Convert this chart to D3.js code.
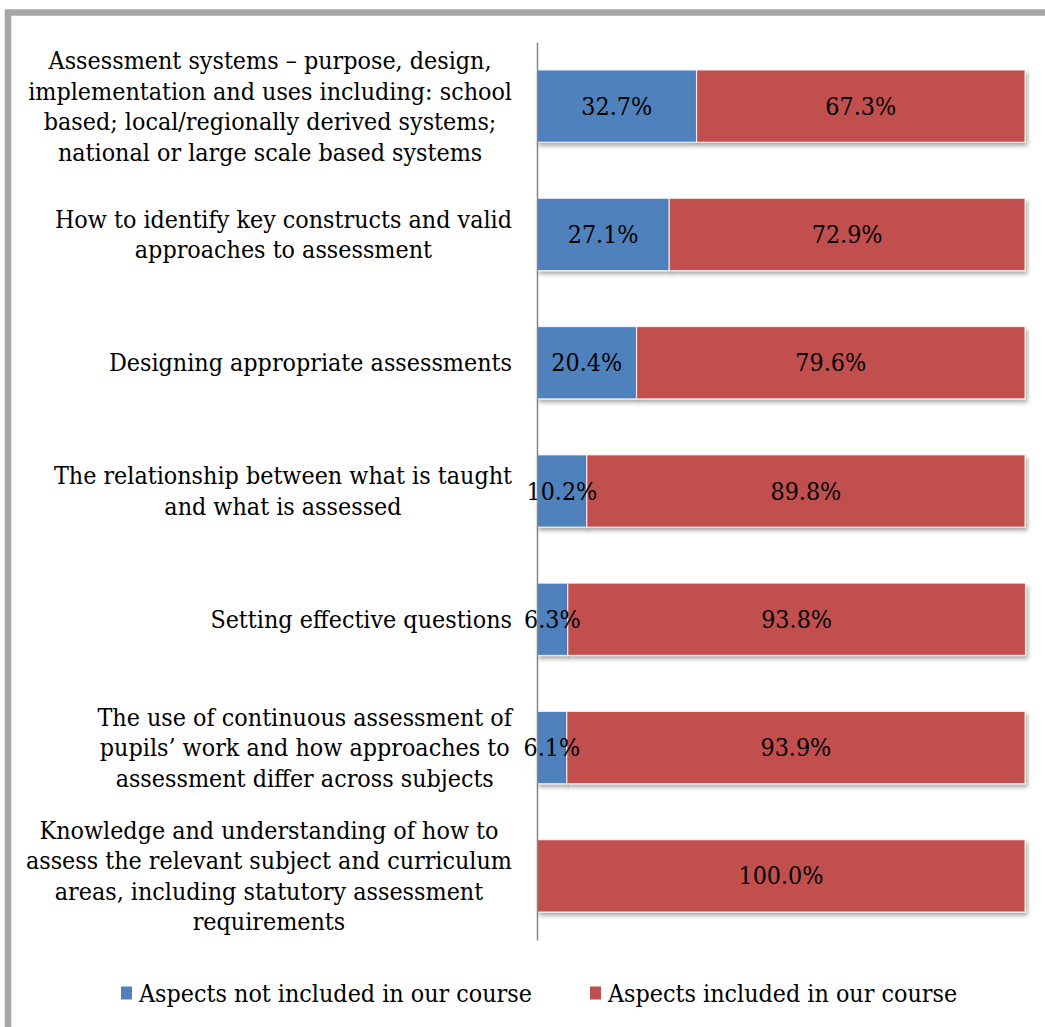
<!DOCTYPE html>
<html>
<head>
<meta charset="utf-8">
<script src="https://cdn.jsdelivr.net/npm/d3@7"></script>
<style>
  html, body { margin: 0; padding: 0; background: #fff; }
  svg { display: block; }
</style>
</head>
<body>
<script>
// Categories, each pre-split into the lines shown on the axis
const categories = [
  ["Assessment systems – purpose, design,", "implementation and uses including: school", "based; local/regionally derived systems;", "national or large scale based systems"],
  ["How to identify key constructs and valid", "approaches to assessment"],
  ["Designing appropriate assessments"],
  ["The relationship between what is taught", "and what is assessed"],
  ["Setting effective questions"],
  ["The use of continuous assessment of", "pupils’ work and how approaches to", "assessment differ across subjects"],
  ["Knowledge and understanding of how to", "assess the relevant subject and curriculum", "areas, including statutory assessment", "requirements"]
];
const seriesNames = ["Aspects not included in our course", "Aspects included in our course"];
const notIncluded = [32.7, 27.1, 20.4, 10.2, 6.3, 6.1, 0];
const included    = [67.3, 72.9, 79.6, 89.8, 93.8, 93.9, 100.0];
const colors = ["#4F81BD", "#C0504D"];

const W = 1045, H = 1027;
const FONT = "'DejaVu Serif Condensed', 'DejaVu Serif', serif";
const FS = 24.8;

const svg = d3.select("body").append("svg").attr("width", W).attr("height", H);

const defs = svg.append("defs");
const f = defs.append("filter").attr("id", "barShadow")
  .attr("x", "-5%").attr("y", "-20%").attr("width", "115%").attr("height", "150%");
f.append("feDropShadow").attr("dx", 2).attr("dy", 3).attr("stdDeviation", 2.2)
  .attr("flood-color", "#000").attr("flood-opacity", 0.35);

// Frame
svg.append("rect").attr("x", 8).attr("y", 12.5).attr("width", 1200).attr("height", 1200)
  .attr("fill", "none").attr("stroke", "#A6A6A6").attr("stroke-width", 6.5);

const keys = categories.map((c, i) => i);
const x = d3.scaleLinear().domain([0, 100]).range([537, 1025]);
const y = d3.scaleBand().domain(keys).range([42, 940]).paddingInner(0.4365).paddingOuter(0.4365 / 2);

const rows = keys.map(i => ({ i, vals: [notIncluded[i], included[i]] }));
const segs = [];
rows.forEach(r => {
  let acc = 0;
  r.vals.forEach((v, s) => {
    segs.push({ i: r.i, s, x0: acc, x1: acc + v, v });
    acc += v;
  });
});

// Bars
const barG = svg.append("g");
barG.selectAll("rect").data(segs.filter(d => d.v > 0)).join("rect")
  .attr("x", d => x(d.x0))
  .attr("width", d => x(d.x1) - x(d.x0))
  .attr("y", d => y(d.i))
  .attr("height", y.bandwidth())
  .attr("fill", d => colors[d.s])
  .attr("stroke", "#fff").attr("stroke-opacity", 0.75).attr("stroke-width", 1.2)
  .attr("filter", "url(#barShadow)");

// Value labels
svg.append("g").selectAll("text").data(segs.filter(d => d.v > 0)).join("text")
  .attr("x", d => (x(d.x0) + x(d.x1)) / 2)
  .attr("y", d => y(d.i) + y.bandwidth() / 2)
  .attr("text-anchor", "middle").attr("dominant-baseline", "central")
  .attr("font-family", FONT).attr("font-size", FS).attr("fill", "#000")
  .text(d => d.v.toFixed(1) + "%");

// Category axis
const axisG = svg.append("g").attr("transform", `translate(${x(0)},0)`)
  .call(d3.axisLeft(y).tickSize(0).tickSizeOuter(0).tickFormat(""));
axisG.select(".domain").attr("stroke", "#868686").attr("stroke-width", 1.5);

const lineH = 30.5;
axisG.selectAll(".tick").each(function(i) {
  const lines = categories[i];
  const t = d3.select(this).append("text")
    .attr("font-family", FONT).attr("font-size", FS).attr("fill", "#000")
    .attr("text-anchor", "middle");
  lines.forEach((ln, k) => {
    t.append("tspan").attr("x", 0)
      .attr("y", (k - (lines.length - 1) / 2) * lineH)
      .attr("dy", "0.35em").text(ln);
  });
  let maxW = 0;
  t.selectAll("tspan").each(function() { maxW = Math.max(maxW, this.getComputedTextLength()); });
  t.selectAll("tspan").attr("x", -25 - maxW / 2);
});

// Legend
const legend = svg.append("g").attr("transform", "translate(0,993)");
const legX = [121, 590];
seriesNames.forEach((name, s) => {
  legend.append("rect").attr("x", legX[s]).attr("y", -6.5).attr("width", 11).attr("height", 13)
    .attr("fill", colors[s]);
  legend.append("text").attr("x", legX[s] + 18).attr("y", 0).attr("dy", "0.35em")
    .attr("font-family", FONT).attr("font-size", FS).attr("fill", "#000").text(name);
});
</script>
</body>
</html>
